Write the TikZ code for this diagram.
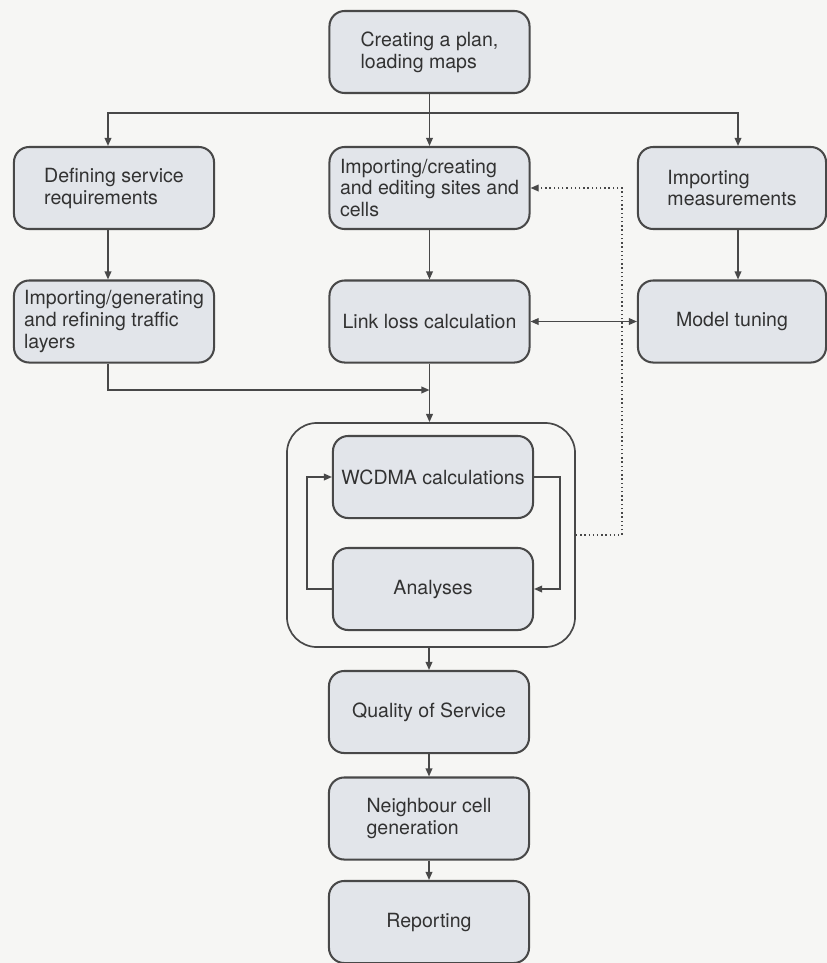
\documentclass[tikz,border=0pt]{standalone}
\usepackage{fontspec}
\setmainfont{TeX Gyre Heros}
\usetikzlibrary{arrows.meta, positioning, calc}
\usepackage{xcolor}
\definecolor{bxFill}{RGB}{226,229,234}
\definecolor{bxLine}{RGB}{72,72,72}
\definecolor{bxText}{RGB}{50,50,50}
\definecolor{paper} {RGB}{246,246,244}

\begin{document}
\begin{tikzpicture}[x=0.025cm, y=-0.025cm,
  font=\fontsize{13.9}{15.6}\selectfont,
  stage/.style={draw=bxLine, line width=1.45pt, fill=bxFill, text=bxText,
    rounded corners=0.38cm, minimum width=5cm, minimum height=2.05cm,
    align=left, inner sep=2pt},
  frame/.style={draw=bxLine, line width=1.2pt, rounded corners=0.75cm,
    minimum width=7.2cm, minimum height=5.6cm},
  arr/.style={draw=bxLine, line width=1pt,
    -{Triangle[length=5.8pt, width=4.8pt]}},
  both/.style={arr, {Triangle[length=5.8pt, width=4.8pt]}-{Triangle[length=5.8pt, width=4.8pt]}},
  feedback/.style={arr, dotted}]

  % ---- paper and page size ----
  \fill[paper] (0,0) rectangle (827,963);
  \useasboundingbox (0,0) rectangle (827,963);

  % ---- top ----
  \node[stage] (plan) at (429.5,52) {Creating a plan,\\loading maps};

  % ---- three columns ----
  \node[stage] (req)   at (114,188)   {Defining service\\requirements};
  \node[stage] (sites) at (429.5,188) {Importing/creating\\and editing sites and\\cells};
  \node[stage, minimum width=4.7cm] (meas) at (732,188) {Importing\\measurements};

  \node[stage] (traffic)  at (114,321.5)   {Importing/generating\\and refining traffic\\layers};
  \node[stage] (linkloss) at (429.5,321.5) {Link loss calculation};
  \node[stage, minimum width=4.7cm] (tuning) at (732,321.5) {Model tuning};

  % ---- calculation loop ----
  \node[frame] (calc) at (431,535) {};
  \node[stage] (wcdma)    at (433,477) {WCDMA calculations};
  \node[stage] (analyses) at (433,589) {Analyses};

  % ---- output chain ----
  \node[stage] (qos)    at (429,712)   {Quality of Service};
  \node[stage] (neigh)  at (429,818.5) {Neighbour cell\\generation};
  \node[stage] (report) at (429,922)   {Reporting};

  % ---- connectors ----
  \coordinate (split) at (429.5,113);
  \draw[bxLine, line width=1pt] (plan.south) -- (split);
  \draw[arr] (split) -| ([xshift=-0.15cm]req.north);
  \draw[arr] (split) -- (sites.north);
  \draw[arr] (split) -| ([xshift=0.15cm]meas.north);

  \draw[arr] ([xshift=-0.15cm]req.south) -- ([xshift=-0.15cm]traffic.north);
  \draw[arr] (sites) -- (linkloss);
  \draw[arr] ([xshift=0.15cm]meas.south) -- ([xshift=0.15cm]tuning.north);
  \draw[both] (linkloss) -- (tuning);

  \coordinate (merge) at (429.5,390);
  \draw[arr] ([xshift=-0.15cm]traffic.south) |- (merge);
  \draw[arr] (linkloss.south) -- (calc.north -| linkloss.south);

  \draw[arr] (wcdma.east) -- ++(26,0) |- (analyses.east);
  \draw[arr] (analyses.west) -- ++(-25,0) |- (wcdma.west);
  \draw[feedback] (calc.east) -- ++(46,0) |- (sites.east);

  \draw[arr] (calc.south -| qos.north) -- (qos);
  \draw[arr] (qos) -- (neigh);
  \draw[arr] (neigh) -- (report);
\end{tikzpicture}
\end{document}
